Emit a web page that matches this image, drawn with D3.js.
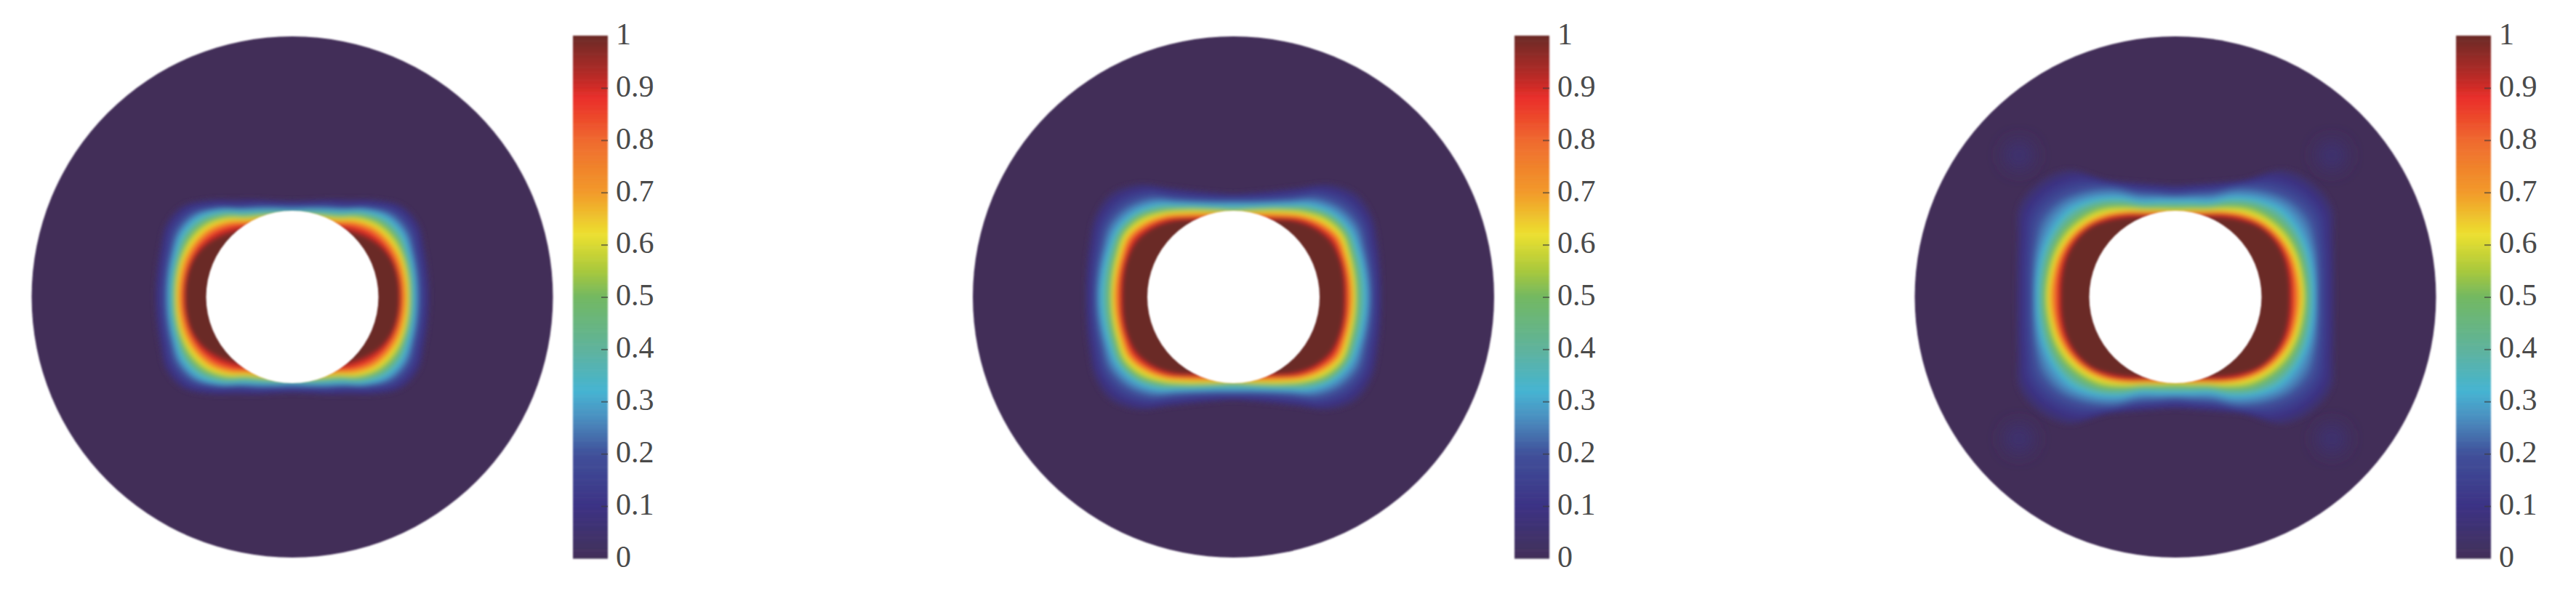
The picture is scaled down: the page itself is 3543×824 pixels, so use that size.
<!DOCTYPE html>
<html><head><meta charset="utf-8">
<script src="https://cdnjs.cloudflare.com/ajax/libs/d3/7.8.5/d3.min.js"></script>
<style>html,body{margin:0;padding:0;background:#fff}svg{display:block}</style></head>
<body><div id="chart"></div>
<script>
// value at each contour (levels) and polar angle from horizontal (degrees)
const levels = [0.03, 0.2, 0.3, 0.5, 0.65, 0.85, 1];
const angles = [0, 10, 20, 30, 40, 50, 60, 70, 80, 90];
// contour radius by level (rows) and angle (columns), in units where disk radius = 358, hole = 118.5
const panel1 = [
  [190, 191, 195, 202, 197, 176, 156, 144, 136, 133],
  [175, 176, 179, 184, 179, 160, 141, 132, 126, 124],
  [169, 170, 172, 175, 170, 155, 137, 127, 121, 118],
  [162, 163, 164, 164, 158, 145, 128, 120, 116, 114],
  [158, 158, 158, 155, 149, 137, 122, 115, 112, 110],
  [150, 150, 149, 146, 139, 128, 116, 110, 106, 104],
  [147, 147, 145, 138, 127, 116, 108, 98, 95, 94]
];
const panel2 = [
  [205, 207, 213, 222, 222, 204, 175, 157, 147, 143],
  [190, 191, 194, 200, 195, 180, 156, 142, 135, 133],
  [183, 183, 184, 186, 180, 166, 147, 135, 128, 126],
  [170, 171, 173, 176, 170, 155, 140, 129, 122, 119],
  [165, 165, 166, 168, 160, 147, 133, 123, 117, 114],
  [157, 158, 159, 160, 152, 141, 127, 118, 112, 110],
  [152, 153, 154, 152, 145, 134, 122, 108, 98, 94]
];
const panel3 = [
  [220, 223, 233, 250, 247, 230, 187, 169, 159, 155],
  [198, 201, 208, 216, 210, 194, 175, 154, 145, 141],
  [191, 192, 194, 194, 190, 176, 159, 141, 135, 133],
  [180, 180, 180, 178, 171, 161, 145, 131, 125, 123],
  [173, 172, 171, 167, 160, 149, 136, 125, 119, 116],
  [163, 164, 164, 161, 154, 144, 133, 123, 117, 114],
  [156, 157, 158, 156, 150, 137, 125, 115, 100, 96]
];
// faint spots in the third panel: offset from centre, value
const spotDx = [-215, 215, -215, 215];
const spotDy = [-195, -195, 195, 195];
const spotValue = [0.06, 0.06, 0.06, 0.06];
// colour map
const colorStops = [0, 0.1, 0.2, 0.27, 0.32, 0.4, 0.5, 0.55, 0.62, 0.7, 0.8, 0.88, 0.93, 1];
const colorValues = ["#432f58", "#3b3284", "#40509a", "#4a8fc0", "#45b4d2", "#5fb39c", "#72b862", "#a8c83c", "#ece030", "#f29a2a", "#ef6a2e", "#ea2e2a", "#b02a25", "#6b2a26"];
const tickValues = [0, 0.1, 0.2, 0.3, 0.4, 0.5, 0.6, 0.7, 0.8, 0.9, 1];

const W = 3543, H = 824;
const layout = [
  {data: panel1, cx: 402, bar: 788, spots: false},
  {data: panel2, cx: 1696.5, bar: 2083, spots: false},
  {data: panel3, cx: 2992, bar: 3378, spots: true}
];
const cy = 408.5, diskR = 358.5, holeR = 118.5, barW = 48, barTop = 49, barBottom = 768;

const color = d3.scaleLinear().domain(colorStops).range(colorValues).interpolate(d3.interpolateRgb).clamp(true);
const rScale = d3.scaleLinear().domain([0, 358.5]).range([0, diskR]);
const yBar = d3.scaleLinear().domain([0, 1]).range([barBottom, barTop]);

const svg = d3.select("#chart").append("svg").attr("width", W).attr("height", H);
svg.append("rect").attr("width", W).attr("height", H).attr("fill", "#fff");
const defs = svg.append("defs");
[["soft", 3, "-20%", "140%"], ["edge", 0.9, "-20%", "140%"], ["spot", 12, "-150%", "400%"]].forEach(([id, s, o, w]) => {
  defs.append("filter").attr("id", id).attr("x", o).attr("y", o).attr("width", w).attr("height", w)
    .append("feGaussianBlur").attr("stdDeviation", s);
});

// level -> radii at each table angle
function radiiAt(data, v) {
  const i = Math.min(d3.bisectRight(levels, v) - 1, levels.length - 2);
  const t = (v - levels[i]) / (levels[i + 1] - levels[i]);
  return angles.map((_, k) => d3.interpolateNumber(data[i][k], data[i + 1][k])(Math.max(0, Math.min(1, t))));
}
// mirror a quadrant into a closed outline; d3 radial angle 0 = up, clockwise
function outline(radii) {
  const pts = [];
  const n = angles.length;
  for (let k = n - 1; k >= 0; k--) pts.push([Math.PI / 2 - angles[k] * Math.PI / 180, radii[k]]);
  for (let k = 1; k < n; k++) pts.push([Math.PI / 2 + angles[k] * Math.PI / 180, radii[k]]);
  for (let k = n - 2; k >= 0; k--) pts.push([3 * Math.PI / 2 - angles[k] * Math.PI / 180, radii[k]]);
  for (let k = 1; k < n - 1; k++) pts.push([3 * Math.PI / 2 + angles[k] * Math.PI / 180, radii[k]]);
  return pts;
}
const radial = d3.lineRadial().angle(d => d[0]).radius(d => rScale(d[1])).curve(d3.curveCatmullRomClosed.alpha(0.5));
const bands = d3.range(0.03, 1.0001, 0.01);

layout.forEach((p, idx) => {
  const g = svg.append("g");
  const clipId = "disk" + idx;
  defs.append("clipPath").attr("id", clipId).append("circle").attr("cx", p.cx).attr("cy", cy).attr("r", diskR);
  g.append("circle").attr("cx", p.cx).attr("cy", cy).attr("r", diskR).attr("fill", color(0)).attr("filter", "url(#edge)");
  const clipped = g.append("g").attr("clip-path", `url(#${clipId})`);
  if (p.spots) {
    clipped.append("g").selectAll("circle").data(spotDx.map((d, i) => ({dx: d, dy: spotDy[i], v: spotValue[i]})))
      .join("circle").attr("cx", d => p.cx + d.dx).attr("cy", d => cy + d.dy).attr("r", 20)
      .attr("fill", d => color(d.v)).attr("filter", "url(#spot)");
  }
  clipped.append("g").attr("filter", "url(#soft)").append("g").attr("transform", `translate(${p.cx},${cy})`)
    .selectAll("path").data(bands).join("path")
    .attr("d", v => radial(outline(radiiAt(p.data, v))))
    .attr("fill", v => color(v));
  g.append("circle").attr("cx", p.cx).attr("cy", cy).attr("r", holeR).attr("fill", "#fff").attr("filter", "url(#edge)");

  // colour bar
  const bar = svg.append("g");
  const cells = d3.range(0, 1, 0.005);
  const cellG = bar.append("g").attr("filter", "url(#edge)");
  cellG.selectAll("rect").data(cells).join("rect")
    .attr("x", p.bar).attr("width", barW)
    .attr("y", d => yBar(d + 0.005)).attr("height", d => yBar(d) - yBar(d + 0.005) + 0.6)
    .attr("fill", d => color(d + 0.0025));
  const axis = d3.axisRight(yBar).tickValues(tickValues).tickFormat(d3.format("~g")).tickSize(0).tickPadding(11);
  const ax = bar.append("g").attr("transform", `translate(${p.bar + barW},0)`).call(axis);
  ax.select(".domain").remove();
  ax.selectAll("text").attr("font-family", "'Liberation Serif', serif").attr("font-size", 42).attr("fill", "#4a4a4a").attr("dy", "0.27em");
  ax.selectAll(".tick line").filter(d => d > 0 && d < 1)
    .attr("x1", -9).attr("x2", 0).attr("stroke", "#3a3a3a").attr("stroke-width", 2).attr("opacity", 0.6);
});
</script></body></html>
